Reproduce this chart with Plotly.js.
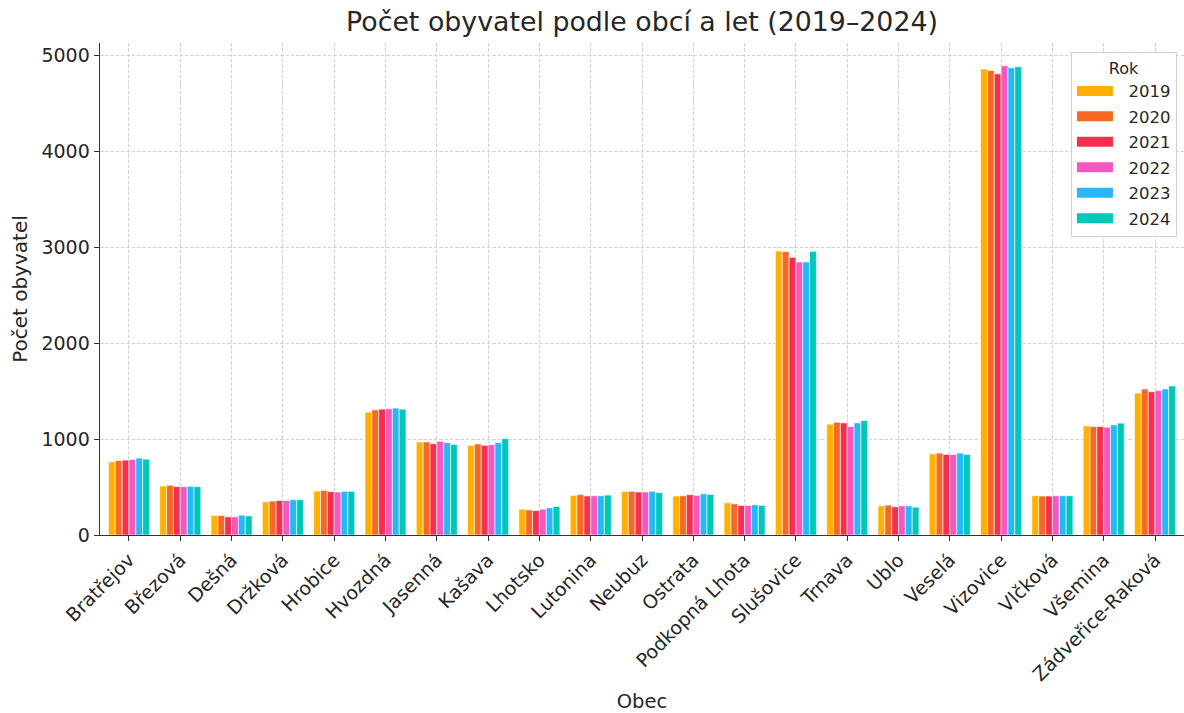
<!DOCTYPE html>
<html><head><meta charset="utf-8">
<script src="https://cdn.plot.ly/plotly-3.0.1.min.js"></script>
<style>body{margin:0;background:#fff}#c{width:1184px;height:713px}</style>
</head><body><div id="c"></div>
<script>
const obce = ["Bratřejov","Březová","Dešná","Držková","Hrobice","Hvozdná","Jasenná","Kašava","Lhotsko","Lutonina","Neubuz","Ostrata","Podkopná Lhota","Slušovice","Trnava","Ublo","Veselá","Vizovice","Vlčková","Všemina","Zádveřice-Raková"];
const roky = ["2019","2020","2021","2022","2023","2024"];
const v2019 = [762,511,203,346,458,1280,969,934,269,413,455,406,336,2958,1154,304,846,4853,409,1137,1479];
const v2020 = [776,518,203,353,465,1304,969,948,262,420,455,409,325,2952,1175,311,853,4839,406,1130,1521];
const v2021 = [780,504,189,360,451,1311,951,934,255,406,448,420,308,2892,1168,294,839,4804,406,1130,1493];
const v2022 = [787,504,189,360,448,1315,976,941,269,409,448,413,308,2843,1129,304,839,4888,409,1123,1504];
const v2023 = [801,507,206,367,455,1322,962,962,283,409,455,430,315,2843,1168,304,853,4867,409,1147,1521];
const v2024 = [790,504,199,367,455,1311,944,1004,297,416,441,423,308,2955,1192,290,839,4878,409,1165,1553];
const hodnoty = [v2019,v2020,v2021,v2022,v2023,v2024];
const barvy = ["#FFB000","#F46A22","#F5304F","#F857C2","#25B9F8","#00C8B8"];

const traces = roky.map((r,i)=>({
  type:"bar", name:r, x:obce, y:hodnoty[i], showlegend:false,
  marker:{color:barvy[i], line:{color:"#ffffff", width:0.6}},
  hovertemplate:"%{x}: %{y}<extra>"+r+"</extra>"
}));
// legend entries (wide colour patches like the reference)
roky.forEach((r,i)=>traces.push({
  type:"scatter", mode:"lines", name:"\u00a0\u00a0" + r, x:[null], y:[null],
  legendgroup:"g"+r, showlegend:true,
  line:{color:barvy[i], width:12}
}));

const font = "DejaVu Sans, Liberation Sans, sans-serif";
const grid = {showgrid:true, gridcolor:"#d2d2d2", griddash:"3.5px,1.8px", gridwidth:1};
const layout = {
  width:1184, height:713,
  margin:{l:100, r:0, t:43, b:178},
  paper_bgcolor:"#fff", plot_bgcolor:"#fff",
  font:{family:font, color:"#262626", size:19},
  title:{text:"Počet obyvatel podle obcí a let (2019–2024)", font:{size:26.8, family:font, color:"#262626"}, xref:"paper", x:0.5, xanchor:"center", y:0.969, yanchor:"middle"},
  barmode:"group", bargap:0.2, bargroupgap:0,
  xaxis:Object.assign({
    title:{text:"Obec", font:{size:19.5}, standoff:18},
    tickangle:-45, tickfont:{size:19},
    range:[-0.565, 20.565],
    showline:true, linecolor:"#333", linewidth:1.4,
    ticks:"outside", ticklen:5, tickcolor:"#333",
    zeroline:false, automargin:false
  }, grid),
  yaxis:Object.assign({
    title:{text:"Počet obyvatel", font:{size:20}, standoff:8},
    tickfont:{size:19},
    range:[0,5125], tickvals:[0,1000,2000,3000,4000,5000],
    showline:true, linecolor:"#333", linewidth:1.4,
    ticks:"outside", ticklen:5, tickcolor:"#333",
    zeroline:false, automargin:false
  }, grid),
  legend:{
    x:0.9935, xanchor:"right", y:0.982, yanchor:"top",
    bgcolor:"rgba(255,255,255,0.9)", bordercolor:"#d0d0d0", borderwidth:1,
    title:{text:"Rok", side:"top center", font:{size:16}},
    font:{size:16.5}, tracegroupgap:1, itemwidth:36
  },
  showlegend:true
};
Plotly.newPlot("c", traces, layout, {displayModeBar:false, staticPlot:true});
</script></body></html>
